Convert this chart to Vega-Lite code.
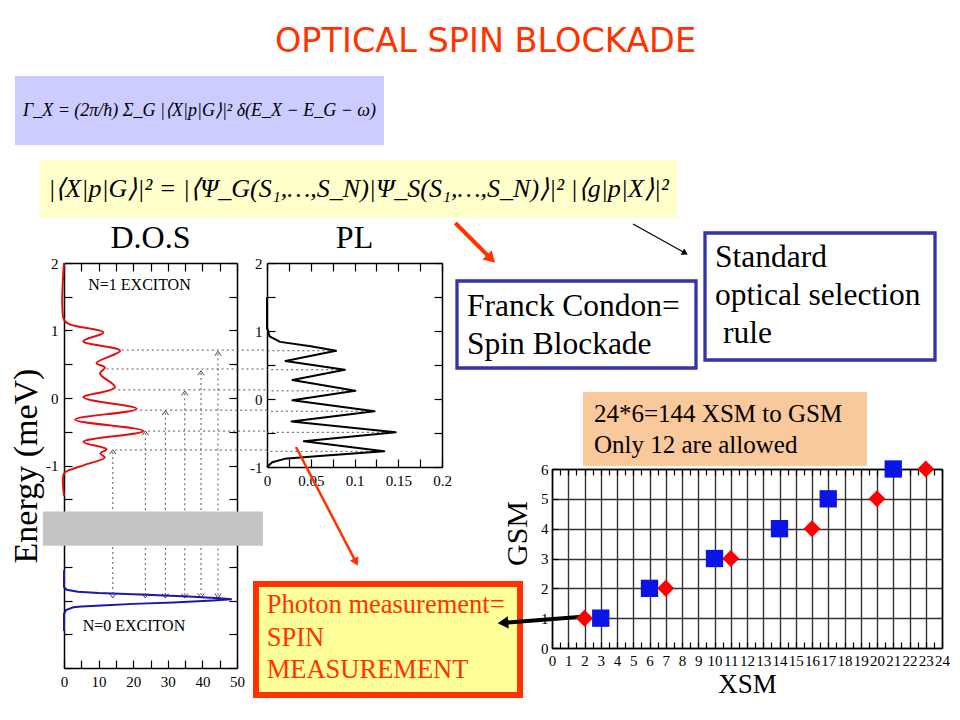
{
  "$schema": "https://vega.github.io/schema/vega-lite/v6.json",
  "usermeta": {"embedOptions": {"actions": false}},
  "background": "white",
  "padding": 0,
  "title": {"text": "OPTICAL SPIN BLOCKADE", "font": "DejaVu Sans", "fontSize": 33.5, "fontWeight": "normal", "color": "#ff3300", "anchor": "start", "frame": "group", "dx": 275, "offset": -59},
  "data": {"values": [{}]},
  "spacing": 0,
  "bounds": "flush",
  "vconcat": [
    {
      "spacing": 0, "bounds": "flush",
      "hconcat": [
        {"width": 15, "height": 710, "mark": {"type": "point", "opacity": 0}},
        {
          "spacing": 0, "bounds": "flush",
          "vconcat": [
            {"width": 1, "height": 76, "mark": {"type": "point", "opacity": 0}},
            {
              "width": 369, "height": 69,
              "view": {"fill": "#ccccff"},
              "data": {"values": [{"formula": "Γ_X = (2π/ħ) Σ_G |⟨X|p|G⟩|² δ(E_X − E_G − ω)"}]},
              "mark": {"type": "text", "font": "Liberation Serif", "fontSize": 18, "fontStyle": "italic", "color": "black", "align": "center", "baseline": "middle"},
              "encoding": {"text": {"field": "formula"}}
            }
          ]
        }
      ]
    },
    {
      "spacing": 0, "bounds": "flush",
      "hconcat": [
        {"width": 40, "height": 710, "mark": {"type": "point", "opacity": 0}},
        {
          "spacing": 0, "bounds": "flush",
          "vconcat": [
            {"width": 1, "height": 160, "mark": {"type": "point", "opacity": 0}},
            {
              "width": 637, "height": 58,
              "view": {"fill": "#ffffcc"},
              "data": {"values": [{"formula": "|⟨X|p|G⟩|² = |⟨Ψ_G(S₁,…,S_N)|Ψ_S(S₁,…,S_N)⟩|² |⟨g|p|X⟩|²"}]},
              "mark": {"type": "text", "font": "Liberation Serif", "fontSize": 26, "fontStyle": "italic", "color": "black", "align": "center", "baseline": "middle"},
              "encoding": {"text": {"field": "formula"}}
            }
          ]
        }
      ]
    },
    {
      "spacing": 0, "bounds": "flush",
      "hconcat": [
        {"width": 705, "height": 710, "mark": {"type": "point", "opacity": 0}},
        {
          "spacing": 0, "bounds": "flush",
          "vconcat": [
            {"width": 1, "height": 233, "mark": {"type": "point", "opacity": 0}},
            {
              "width": 230, "height": 127,
              "view": {"fill": "white", "stroke": "#3333aa", "strokeWidth": 3.3},
              "data": {"values": [{"t": "Standard\noptical selection", "u": "rule"}]},
              "layer": [
                {
                  "mark": {"type": "text", "font": "Liberation Serif", "fontSize": 31.5, "lineHeight": 38.3, "lineBreak": "\n", "color": "black", "align": "left", "baseline": "alphabetic", "dx": -105, "dy": -29.8},
                  "encoding": {"text": {"field": "t"}}
                },
                {
                  "mark": {"type": "text", "font": "Liberation Serif", "fontSize": 31.5, "color": "black", "align": "left", "baseline": "alphabetic", "dx": -97, "dy": 46.8},
                  "encoding": {"text": {"field": "u"}}
                }
              ]
            }
          ]
        }
      ]
    },
    {
      "spacing": 0, "bounds": "flush",
      "hconcat": [
        {"width": 457, "height": 710, "mark": {"type": "point", "opacity": 0}},
        {
          "spacing": 0, "bounds": "flush",
          "vconcat": [
            {"width": 1, "height": 281, "mark": {"type": "point", "opacity": 0}},
            {
              "width": 239, "height": 87,
              "view": {"fill": "white", "stroke": "#3333aa", "strokeWidth": 3.3},
              "data": {"values": [{"t": "Franck Condon=\nSpin Blockade"}]},
              "mark": {"type": "text", "font": "Liberation Serif", "fontSize": 31.5, "lineHeight": 37.5, "lineBreak": "\n", "color": "black", "align": "left", "baseline": "alphabetic", "dx": -109.5, "dy": -8.5},
              "encoding": {"text": {"field": "t"}}
            }
          ]
        }
      ]
    },
    {
      "spacing": 0, "bounds": "flush",
      "hconcat": [
        {"width": 583, "height": 710, "mark": {"type": "point", "opacity": 0}},
        {
          "spacing": 0, "bounds": "flush",
          "vconcat": [
            {"width": 1, "height": 392, "mark": {"type": "point", "opacity": 0}},
            {
              "width": 284, "height": 74,
              "view": {"fill": "#f9c89b"},
              "data": {"values": [{"t": "24*6=144 XSM to GSM\nOnly 12 are allowed"}]},
              "mark": {"type": "text", "font": "Liberation Serif", "fontSize": 25, "lineHeight": 31, "lineBreak": "\n", "color": "black", "align": "left", "baseline": "alphabetic", "dx": -131, "dy": -7},
              "encoding": {"text": {"field": "t"}}
            }
          ]
        }
      ]
    },
    {
      "spacing": 0, "bounds": "flush",
      "hconcat": [
        {"width": 256, "height": 710, "mark": {"type": "point", "opacity": 0}},
        {
          "spacing": 0, "bounds": "flush",
          "vconcat": [
            {"width": 1, "height": 584, "mark": {"type": "point", "opacity": 0}},
            {
              "width": 264, "height": 111,
              "view": {"fill": "#ffff99", "stroke": "#ff3300", "strokeWidth": 6},
              "data": {"values": [{"t": "Photon measurement=\nSPIN\nMEASUREMENT"}]},
              "mark": {"type": "text", "font": "Liberation Serif", "fontSize": 26.5, "lineHeight": 32.5, "lineBreak": "\n", "color": "#ff3300", "align": "left", "baseline": "alphabetic", "dx": -121.3, "dy": -26.2},
              "encoding": {"text": {"field": "t"}}
            }
          ]
        }
      ]
    },
    {
      "spacing": 0, "bounds": "flush",
      "hconcat": [
        {"width": 267, "height": 710, "mark": {"type": "point", "opacity": 0}},
        {
          "spacing": 0, "bounds": "flush",
          "vconcat": [
            {"width": 1, "height": 263, "mark": {"type": "point", "opacity": 0}},
            {
              "width": 175, "height": 204,
              "title": {"text": "PL", "font": "Liberation Serif", "fontSize": 32, "fontWeight": "normal", "color": "black", "anchor": "middle", "frame": "group", "offset": 1.5},
              "layer": [
                {
                  "data": {"values": [
                    {"energy": 0.71, "peak": 0.077}, {"energy": 0.43, "peak": 0.087}, {"energy": 0.12, "peak": 0.099},
                    {"energy": -0.18, "peak": 0.121}, {"energy": -0.49, "peak": 0.145}, {"energy": -0.77, "peak": 0.132}
                  ]},
                  "mark": {"type": "rule", "color": "#555555", "strokeWidth": 1, "strokeDash": [2, 3]},
                  "encoding": {
                    "x": {"field": "peak", "type": "quantitative", "scale": {"domain": [0, 0.2], "nice": false},
                          "axis": {"orient": "top", "values": [0, 0.025, 0.05, 0.075, 0.1, 0.125, 0.15, 0.175, 0.2], "labels": false, "tickSize": -8, "title": null}},
                    "x2": {"datum": 0},
                    "y": {"field": "energy", "type": "quantitative", "scale": {"domain": [-1, 2], "nice": false},
                          "axis": {"orient": "right", "values": [-1, -0.5, 0, 0.5, 1, 1.5, 2], "labels": false, "tickSize": -8, "title": null}}
                  }
                },
                {
                  "data": {"values": [
                    {"pl": 0, "energy": 1.5}, {"pl": 0, "energy": 1.05}, {"pl": 0.003, "energy": 0.92}, {"pl": 0.015, "energy": 0.84},
                    {"pl": 0.05, "energy": 0.775}, {"pl": 0.079, "energy": 0.71}, {"pl": 0.021, "energy": 0.56}, {"pl": 0.089, "energy": 0.43},
                    {"pl": 0.029, "energy": 0.28}, {"pl": 0.101, "energy": 0.12}, {"pl": 0.029, "energy": -0.02}, {"pl": 0.123, "energy": -0.18},
                    {"pl": 0.028, "energy": -0.33}, {"pl": 0.147, "energy": -0.49}, {"pl": 0.042, "energy": -0.62}, {"pl": 0.134, "energy": -0.77},
                    {"pl": 0.06, "energy": -0.84}, {"pl": 0.02, "energy": -0.88}, {"pl": 0.006, "energy": -0.93}, {"pl": 0, "energy": -1.0}
                  ]},
                  "mark": {"type": "line", "color": "black", "strokeWidth": 2, "strokeJoin": "round"},
                  "encoding": {
                    "x": {"field": "pl", "type": "quantitative", "scale": {"domain": [0, 0.2], "nice": false},
                          "axis": {"orient": "bottom", "values": [0, 0.025, 0.05, 0.075, 0.1, 0.125, 0.15, 0.175, 0.2], "labelExpr": "abs(datum.value * 20 - round(datum.value * 20)) < 0.001 ? format(datum.value, '~g') : ''", "tickSize": -8, "labelPadding": 14, "title": null}},
                    "y": {"field": "energy", "type": "quantitative", "scale": {"domain": [-1, 2], "nice": false},
                          "axis": {"orient": "left", "values": [-1, -0.5, 0, 0.5, 1, 1.5, 2], "labelExpr": "datum.value % 1 == 0 ? (datum.value < 0 ? '-' + abs(datum.value) : '' + datum.value) : ''", "tickSize": -8, "labelPadding": 13, "title": null}},
                    "order": {"field": "energy", "type": "quantitative", "sort": "descending"}
                  }
                },
                {
                  "mark": {"type": "rule", "color": "#ff3300", "strokeWidth": 2.5},
                  "encoding": {
                    "x": {"datum": 0.0331, "type": "quantitative", "scale": {"domain": [0, 0.2], "nice": false}, "axis": null},
                    "x2": {"datum": 0.1017},
                    "y": {"datum": -0.706, "type": "quantitative", "scale": {"domain": [-1, 2], "nice": false}, "axis": null},
                    "y2": {"datum": -2.4}
                  }
                },
                {
                  "mark": {"type": "point", "shape": "triangle-up", "angle": 152.7, "filled": true, "color": "#ff3300", "size": 90, "opacity": 1},
                  "encoding": {
                    "x": {"datum": 0.1017, "type": "quantitative", "scale": {"domain": [0, 0.2], "nice": false}, "axis": null},
                    "y": {"datum": -2.4, "type": "quantitative", "scale": {"domain": [-1, 2], "nice": false}, "axis": null}
                  }
                }
              ],
              "resolve": {"axis": {"x": "independent", "y": "independent"}}
            }
          ]
        }
      ]
    },
    {
      "spacing": 0, "bounds": "flush",
      "hconcat": [
        {"width": 64, "height": 710, "mark": {"type": "point", "opacity": 0}},
        {
          "spacing": 0, "bounds": "flush",
          "vconcat": [
            {"width": 1, "height": 263, "mark": {"type": "point", "opacity": 0}},
            {
              "width": 173, "height": 405,
              "title": {"text": "D.O.S", "font": "Liberation Serif", "fontSize": 32, "fontWeight": "normal", "color": "black", "anchor": "middle", "frame": "group", "offset": 1.5},
              "layer": [
                {
                  "data": {"values": [
                    {"energy": 0.71, "from": 16.7}, {"energy": 0.43, "from": 12.3}, {"energy": 0.12, "from": 15.7},
                    {"energy": -0.18, "from": 22}, {"energy": -0.49, "from": 24.3}, {"energy": -0.77, "from": 14.7}
                  ]},
                  "mark": {"type": "rule", "color": "#555555", "strokeWidth": 1, "strokeDash": [2, 3]},
                  "encoding": {
                    "x": {"field": "from", "type": "quantitative", "scale": {"domain": [0, 50], "nice": false}, "axis": null},
                    "x2": {"datum": 58.7},
                    "y": {"field": "energy", "type": "quantitative", "scale": {"domain": [-4, 2], "nice": false}, "axis": null}
                  }
                },
                {
                  "data": {"values": [
                    {"dos": 14.1, "top": -0.8}, {"dos": 23.5, "top": -0.52}, {"dos": 29.3, "top": -0.22},
                    {"dos": 34.9, "top": 0.07}, {"dos": 39.6, "top": 0.37}, {"dos": 44.5, "top": 0.66}
                  ]},
                  "mark": {"type": "rule", "color": "#555555", "strokeWidth": 1, "strokeDash": [2, 3]},
                  "encoding": {
                    "x": {"field": "dos", "type": "quantitative", "scale": {"domain": [0, 50], "nice": false}, "axis": null},
                    "y": {"field": "top", "type": "quantitative", "scale": {"domain": [-4, 2], "nice": false}, "axis": null},
                    "y2": {"datum": -2.93}
                  }
                },
                {
                  "data": {"values": [
                    {"dos": 14.1, "top": -0.8}, {"dos": 23.5, "top": -0.52}, {"dos": 29.3, "top": -0.22},
                    {"dos": 34.9, "top": 0.07}, {"dos": 39.6, "top": 0.37}, {"dos": 44.5, "top": 0.66}
                  ]},
                  "mark": {"type": "point", "shape": "M-1,0.7L0,-0.7L1,0.7", "filled": false, "size": 40, "color": "#444444", "strokeWidth": 1, "opacity": 1},
                  "encoding": {
                    "x": {"field": "dos", "type": "quantitative", "scale": {"domain": [0, 50], "nice": false}, "axis": null},
                    "y": {"field": "top", "type": "quantitative", "scale": {"domain": [-4, 2], "nice": false}, "axis": null}
                  }
                },
                {
                  "data": {"values": [
                    {"dos": 14.1}, {"dos": 23.5}, {"dos": 29.3}, {"dos": 34.9}, {"dos": 39.6}, {"dos": 44.5}
                  ]},
                  "mark": {"type": "point", "shape": "M-1,-0.7L0,0.7L1,-0.7", "filled": false, "size": 40, "color": "#444444", "strokeWidth": 1, "opacity": 1},
                  "encoding": {
                    "x": {"field": "dos", "type": "quantitative", "scale": {"domain": [0, 50], "nice": false}, "axis": null},
                    "y": {"datum": -2.93, "type": "quantitative", "scale": {"domain": [-4, 2], "nice": false}, "axis": null}
                  }
                },
                {
                  "data": {"values": [
                    {"dos": 0, "energy": 2}, {"dos": 0, "energy": 1.16}, {"dos": 1.7, "energy": 1.09}, {"dos": 11.4, "energy": 0.97},
                    {"dos": 5.6, "energy": 0.84}, {"dos": 16.2, "energy": 0.7}, {"dos": 9.4, "energy": 0.52}, {"dos": 11.8, "energy": 0.45},
                    {"dos": 10.4, "energy": 0.36}, {"dos": 14.7, "energy": 0.16}, {"dos": 5.6, "energy": 0.01}, {"dos": 21, "energy": -0.16},
                    {"dos": 3.2, "energy": -0.32}, {"dos": 22.9, "energy": -0.49}, {"dos": 5.6, "energy": -0.65}, {"dos": 12.3, "energy": -0.76},
                    {"dos": 10.5, "energy": -0.82}, {"dos": 11.8, "energy": -0.88}, {"dos": 6, "energy": -0.99}, {"dos": 1.5, "energy": -1.07},
                    {"dos": 0, "energy": -1.12}, {"dos": 0, "energy": -1.45}
                  ]},
                  "mark": {"type": "line", "color": "#dd1111", "strokeWidth": 2, "interpolate": "catmull-rom"},
                  "encoding": {
                    "x": {"field": "dos", "type": "quantitative", "scale": {"domain": [0, 50], "nice": false},
                          "axis": {"orient": "bottom", "values": [0, 5, 10, 15, 20, 25, 30, 35, 40, 45, 50], "labelExpr": "datum.value % 10 == 0 ? datum.label : ''", "tickSize": -8, "labelPadding": 14, "title": null}},
                    "y": {"field": "energy", "type": "quantitative", "scale": {"domain": [-4, 2], "nice": false},
                          "axis": {"orient": "left", "values": [-4, -3.5, -3, -2.5, -2, -1.5, -1, -0.5, 0, 0.5, 1, 1.5, 2], "labelExpr": "datum.value % 1 == 0 && datum.value >= -1 ? (datum.value < 0 ? '-' + abs(datum.value) : '' + datum.value) : ''", "tickSize": -8, "labelPadding": 14, "title": "Energy (meV)", "titleFontSize": 34, "titlePadding": 2}},
                    "order": {"field": "energy", "type": "quantitative", "sort": "descending"}
                  }
                },
                {
                  "data": {"values": [
                    {"dos": 0, "energy": -2.55}, {"dos": 0, "energy": -2.8}, {"dos": 0.8, "energy": -2.84}, {"dos": 4, "energy": -2.87},
                    {"dos": 10, "energy": -2.89}, {"dos": 22, "energy": -2.91}, {"dos": 36, "energy": -2.94}, {"dos": 45, "energy": -2.965},
                    {"dos": 48.5, "energy": -2.98}, {"dos": 43, "energy": -3.0}, {"dos": 31.6, "energy": -3.03}, {"dos": 20, "energy": -3.05},
                    {"dos": 12.3, "energy": -3.07}, {"dos": 5, "energy": -3.09}, {"dos": 2.7, "energy": -3.1}, {"dos": 0.6, "energy": -3.14},
                    {"dos": 0, "energy": -3.2}, {"dos": 0, "energy": -3.45}
                  ]},
                  "mark": {"type": "line", "color": "#1a1aa8", "strokeWidth": 2},
                  "encoding": {
                    "x": {"field": "dos", "type": "quantitative", "scale": {"domain": [0, 50], "nice": false},
                          "axis": {"orient": "top", "values": [0, 5, 10, 15, 20, 25, 30, 35, 40, 45, 50], "labels": false, "tickSize": -8, "title": null}},
                    "y": {"field": "energy", "type": "quantitative", "scale": {"domain": [-4, 2], "nice": false},
                          "axis": {"orient": "right", "values": [-4, -3.5, -3, -2.5, -2, -1.5, -1, -0.5, 0, 0.5, 1, 1.5, 2], "labels": false, "tickSize": -8, "title": null}},
                    "order": {"field": "energy", "type": "quantitative", "sort": "descending"}
                  }
                },
                {
                  "mark": {"type": "rect", "color": "#c4c4c4", "opacity": 1},
                  "encoding": {
                    "x": {"datum": -6.1, "type": "quantitative", "scale": {"domain": [0, 50], "nice": false}, "axis": null},
                    "x2": {"datum": 57.5},
                    "y": {"datum": -1.68, "type": "quantitative", "scale": {"domain": [-4, 2], "nice": false}, "axis": null},
                    "y2": {"datum": -2.19}
                  }
                },
                {
                  "data": {"values": [
                    {"label": "N=1 EXCITON", "dos": 7, "energy": 1.68},
                    {"label": "N=0 EXCITON", "dos": 5.4, "energy": -3.38}
                  ]},
                  "mark": {"type": "text", "font": "Liberation Serif", "fontSize": 16, "color": "black", "align": "left", "baseline": "middle"},
                  "encoding": {
                    "x": {"field": "dos", "type": "quantitative", "scale": {"domain": [0, 50], "nice": false}, "axis": null},
                    "y": {"field": "energy", "type": "quantitative", "scale": {"domain": [-4, 2], "nice": false}, "axis": null},
                    "text": {"field": "label"}
                  }
                }
              ],
              "resolve": {"axis": {"x": "independent", "y": "independent"}}
            }
          ]
        }
      ]
    },
    {
      "spacing": 0, "bounds": "flush",
      "hconcat": [
        {"width": 552, "height": 710, "mark": {"type": "point", "opacity": 0}},
        {
          "spacing": 0, "bounds": "flush",
          "vconcat": [
            {"width": 1, "height": 469, "mark": {"type": "point", "opacity": 0}},
            {
              "width": 390, "height": 179,
              "layer": [
                {
                  "mark": {"type": "rule", "color": "black", "strokeWidth": 4},
                  "encoding": {
                    "x": {"datum": 1.85, "type": "quantitative", "scale": {"domain": [0, 24], "nice": false}, "axis": null},
                    "x2": {"datum": -3.0},
                    "y": {"datum": 1.05, "type": "quantitative", "scale": {"domain": [0, 6], "nice": false}, "axis": null},
                    "y2": {"datum": 0.845}
                  }
                },
                {
                  "mark": {"type": "point", "shape": "triangle-up", "angle": 265.6, "filled": true, "color": "black", "size": 150, "opacity": 1},
                  "encoding": {
                    "x": {"datum": -3.015, "type": "quantitative", "scale": {"domain": [0, 24], "nice": false}, "axis": null},
                    "y": {"datum": 0.845, "type": "quantitative", "scale": {"domain": [0, 6], "nice": false}, "axis": null}
                  }
                },
                {
                  "mark": {"type": "rule", "color": "#ff3300", "strokeWidth": 4},
                  "encoding": {
                    "x": {"datum": -5.951, "type": "quantitative", "scale": {"domain": [0, 24], "nice": false}, "axis": null},
                    "x2": {"datum": -3.748},
                    "y": {"datum": 14.247, "type": "quantitative", "scale": {"domain": [0, 6], "nice": false}, "axis": null},
                    "y2": {"datum": 13.047}
                  }
                },
                {
                  "mark": {"type": "point", "shape": "triangle-up", "angle": 135, "filled": true, "color": "#ff3300", "size": 170, "opacity": 1},
                  "encoding": {
                    "x": {"datum": -3.748, "type": "quantitative", "scale": {"domain": [0, 24], "nice": false}, "axis": null},
                    "y": {"datum": 13.047, "type": "quantitative", "scale": {"domain": [0, 6], "nice": false}, "axis": null}
                  }
                },
                {
                  "mark": {"type": "rule", "color": "black", "strokeWidth": 1.2},
                  "encoding": {
                    "x": {"datum": 4.985, "type": "quantitative", "scale": {"domain": [0, 24], "nice": false}, "axis": null},
                    "x2": {"datum": 8.191},
                    "y": {"datum": 14.214, "type": "quantitative", "scale": {"domain": [0, 6], "nice": false}, "axis": null},
                    "y2": {"datum": 13.238}
                  }
                },
                {
                  "mark": {"type": "point", "shape": "triangle-up", "angle": 119, "filled": true, "color": "black", "size": 50, "opacity": 1},
                  "encoding": {
                    "x": {"datum": 8.191, "type": "quantitative", "scale": {"domain": [0, 24], "nice": false}, "axis": null},
                    "y": {"datum": 13.238, "type": "quantitative", "scale": {"domain": [0, 6], "nice": false}, "axis": null}
                  }
                },
                {
                  "data": {"values": [
                    {"xsm": 3, "gsm": 1}, {"xsm": 6, "gsm": 2}, {"xsm": 10, "gsm": 3},
                    {"xsm": 14, "gsm": 4}, {"xsm": 17, "gsm": 5}, {"xsm": 21, "gsm": 6}
                  ]},
                  "mark": {"type": "point", "shape": "square", "filled": true, "color": "#0a14e6", "size": 300, "opacity": 1},
                  "encoding": {
                    "x": {"field": "xsm", "type": "quantitative", "scale": {"domain": [0, 24], "nice": false},
                          "axis": {"orient": "bottom", "values": [0, 0.5, 1, 1.5, 2, 2.5, 3, 3.5, 4, 4.5, 5, 5.5, 6, 6.5, 7, 7.5, 8, 8.5, 9, 9.5, 10, 10.5, 11, 11.5, 12, 12.5, 13, 13.5, 14, 14.5, 15, 15.5, 16, 16.5, 17, 17.5, 18, 18.5, 19, 19.5, 20, 20.5, 21, 21.5, 22, 22.5, 23, 23.5, 24],
                                   "labelExpr": "datum.value % 1 == 0 ? format(datum.value, 'd') : ''", "tickSize": -6, "labelPadding": 11,
                                   "grid": true, "gridColor": "#333333", "gridWidth": 1.4, "gridOpacity": {"condition": {"test": "datum.value % 1 != 0", "value": 0}, "value": 1},
                                   "title": "XSM", "titleFontSize": 27, "titlePadding": 3}},
                    "y": {"field": "gsm", "type": "quantitative", "scale": {"domain": [0, 6], "nice": false},
                          "axis": {"orient": "left", "values": [0, 1, 2, 3, 4, 5, 6], "tickSize": -6, "labelPadding": 10,
                                   "grid": true, "gridColor": "#333333", "gridWidth": 1.4,
                                   "title": "GSM", "titleFontSize": 30, "titlePadding": 8, "titleY": 64}}
                  }
                },
                {
                  "data": {"values": [
                    {"xsm": 2, "gsm": 1}, {"xsm": 7, "gsm": 2}, {"xsm": 11, "gsm": 3},
                    {"xsm": 16, "gsm": 4}, {"xsm": 20, "gsm": 5}, {"xsm": 23, "gsm": 6}
                  ]},
                  "mark": {"type": "point", "shape": "diamond", "filled": true, "color": "#ff0000", "size": 290, "opacity": 1},
                  "encoding": {
                    "x": {"field": "xsm", "type": "quantitative", "scale": {"domain": [0, 24], "nice": false},
                          "axis": {"orient": "top", "values": [0, 0.5, 1, 1.5, 2, 2.5, 3, 3.5, 4, 4.5, 5, 5.5, 6, 6.5, 7, 7.5, 8, 8.5, 9, 9.5, 10, 10.5, 11, 11.5, 12, 12.5, 13, 13.5, 14, 14.5, 15, 15.5, 16, 16.5, 17, 17.5, 18, 18.5, 19, 19.5, 20, 20.5, 21, 21.5, 22, 22.5, 23, 23.5, 24],
                                   "labels": false, "tickSize": -6, "title": null}},
                    "y": {"field": "gsm", "type": "quantitative", "scale": {"domain": [0, 6], "nice": false},
                          "axis": {"orient": "right", "values": [0, 1, 2, 3, 4, 5, 6], "labels": false, "ticks": false, "title": null}}
                  }
                }
              ],
              "resolve": {"axis": {"x": "independent", "y": "independent"}}
            }
          ]
        }
      ]
    }
  ],
  "config": {
    "view": {"stroke": null},
    "font": "Liberation Serif",
    "text": {"font": "Liberation Serif"},
    "axis": {
      "labelFont": "Liberation Serif", "labelFontSize": 15, "labelColor": "black",
      "titleFont": "Liberation Serif", "titleFontWeight": "normal", "titleColor": "black",
      "domainColor": "black", "domainWidth": 1.5, "tickColor": "black", "tickWidth": 1.2,
      "labelOverlap": false, "labelFlush": false, "labelBound": false, "grid": false
    }
  }
}
